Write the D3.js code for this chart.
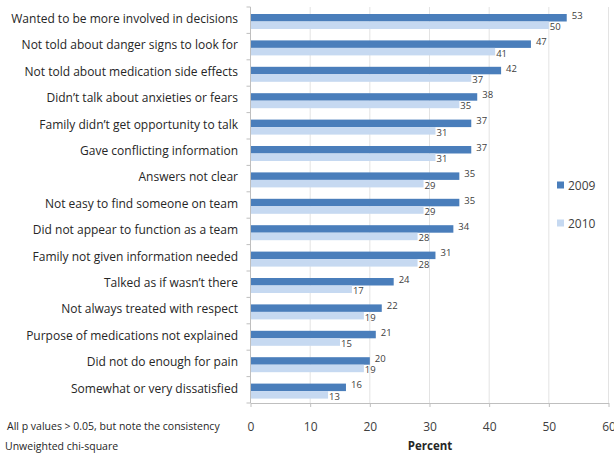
<!DOCTYPE html>
<html><head><meta charset="utf-8">
<script src="https://cdn.jsdelivr.net/npm/d3@7/dist/d3.min.js"></script>
<style>body{margin:0;background:#fff}svg{display:block}text{font-family:"Open Sans",sans-serif}</style>
</head><body>
<svg id="c" width="614" height="455"></svg>
<script>
const categories = [
  "Wanted to be more involved in decisions",
  "Not told about danger signs to look for",
  "Not told about medication side effects",
  "Didn\u2019t talk about anxieties or fears",
  "Family didn\u2019t get opportunity to talk",
  "Gave conflicting information",
  "Answers not clear",
  "Not easy to find someone on team",
  "Did not appear to function as a team",
  "Family not given information needed",
  "Talked as if wasn\u2019t there",
  "Not always treated with respect",
  "Purpose of medications not explained",
  "Did not do enough for pain",
  "Somewhat or very dissatisfied"
];
const values2009 = [53,47,42,38,37,37,35,35,34,31,24,22,21,20,16];
const values2010 = [50,41,37,35,31,31,29,29,28,28,17,19,15,19,13];
const seriesNames = ["2009","2010"];
const xTicks = [0,10,20,30,40,50,60];
const footnotes = ["All p values > 0.05, but note the consistency","Unweighted chi-square"];
const axisTitle = "Percent";

const colors = ["#4a7ebb","#c6d9f1"];
const svg = d3.select("#c");
const plotTop = 7, plotBottom = 403;
const x = d3.scaleLinear().domain([0,60]).range([250.5,608.5]);
const y = d3.scaleBand().domain(categories).range([plotTop,plotBottom]).padding(0);
const y2 = d3.scaleBand().domain(seriesNames).range([7,22]);

// gridlines
svg.append("g").selectAll("line").data(xTicks.slice(1)).join("line")
  .attr("x1",d=>x(d)).attr("x2",d=>x(d)).attr("y1",plotTop).attr("y2",plotBottom)
  .attr("stroke","#e3e3e3").attr("stroke-width",1);

// bars
const data = [];
categories.forEach((c,i)=>{
  data.push({c,s:"2009",v:values2009[i]});
  data.push({c,s:"2010",v:values2010[i]});
});
svg.append("g").selectAll("rect").data(data).join("rect")
  .attr("x",x(0)).attr("y",d=>y(d.c)+y2(d.s))
  .attr("width",d=>x(d.v)-x(0)).attr("height",y2.bandwidth())
  .attr("fill",d=>d.s==="2009"?colors[0]:colors[1]);

// value labels
svg.append("g").selectAll("text").data(data).join("text")
  .attr("x",d=>x(d.v)+(d.s==="2009"?5:1))
  .attr("y",d=>y(d.c)+y2(d.s)+y2.bandwidth()/2+(d.s==="2009"?1:5))
  .attr("font-size",9.5).attr("fill","#404040")
  .text(d=>d.v);

// x axis
const xAxis = d3.axisBottom(x).tickValues(xTicks).tickSize(4).tickSizeOuter(0);
const gx = svg.append("g").attr("transform",`translate(0,${plotBottom})`).call(xAxis);
gx.select(".domain").attr("stroke","#bfbfbf");
gx.selectAll(".tick line").attr("stroke","#bfbfbf");
gx.selectAll(".tick text").attr("font-size",12).attr("fill","#404040").attr("dy","1.75em")
  .attr("font-family","Open Sans, sans-serif");

// y axis line and category labels
svg.append("line").attr("x1",250.5).attr("x2",250.5).attr("y1",plotTop).attr("y2",plotBottom).attr("stroke","#bfbfbf");
svg.append("g").selectAll("text").data(categories).join("text")
  .attr("x",238).attr("y",d=>y(d)+y2.range()[0]+y2.bandwidth()/2+1)
  .attr("dy","0.35em").attr("text-anchor","end")
  .attr("font-size",12).attr("fill","#262626").text(d=>d);
// category separator ticks
const bounds = categories.map(c=>y(c)).concat([plotBottom]);
svg.append("g").selectAll("line").data(bounds).join("line")
  .attr("x1",246.5).attr("x2",250.5).attr("y1",d=>d).attr("y2",d=>d)
  .attr("stroke","#bfbfbf");

// axis title
svg.append("text").attr("x",430).attr("y",450).attr("text-anchor","middle")
  .attr("font-size",11.5).attr("font-weight","bold").attr("fill","#262626").text(axisTitle);

// footnotes
svg.append("text").attr("x",7).attr("y",430).attr("font-size",10.5).attr("fill","#262626").text(footnotes[0]);
svg.append("text").attr("x",5).attr("y",450).attr("font-size",10.5).attr("fill","#262626").text(footnotes[1]);

// legend
const lg = svg.append("g");
lg.append("rect").attr("x",553).attr("y",172).attr("width",50).attr("height",66).attr("fill","#fff");
seriesNames.forEach((s,i)=>{
  const yy = 185 + i*38;
  lg.append("rect").attr("x",557).attr("y",yy-3.5).attr("width",7).attr("height",7).attr("fill",colors[i]);
  lg.append("text").attr("x",568).attr("y",yy+4.5).attr("font-size",12).attr("fill","#404040").text(s);
});
</script>
</body></html>
